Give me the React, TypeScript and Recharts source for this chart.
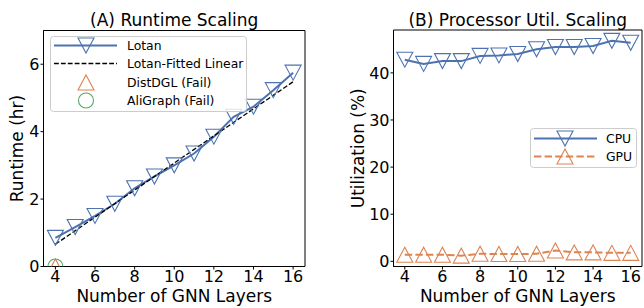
import React from "react";
import {
  LineChart, Line, XAxis, YAxis, Legend, Label, ReferenceArea,
} from "recharts";

// ---- data ----
const layers = [4, 5, 6, 7, 8, 9, 10, 11, 12, 13, 14, 15, 16];
const xTicks = [4, 6, 8, 10, 12, 14, 16];

const lotanRuntime = [0.85, 1.17, 1.5, 1.86, 2.32, 2.67, 3.0, 3.35, 3.85, 4.44, 4.74, 5.23, 5.75];
const fitLayers = [4, 16];
const fitRuntime = [0.66, 5.48];
const failLayers = [4];
const distdglRuntime = [0];
const aligraphRuntime = [0];
const runtimeTicks = [0, 2, 4, 6];

const cpuUtil = [42.8, 41.9, 42.5, 42.5, 43.6, 43.7, 44.0, 45.0, 45.5, 45.5, 45.7, 46.8, 46.4];
const gpuUtil = [1.4, 1.4, 1.4, 1.2, 1.6, 1.55, 1.55, 1.6, 2.3, 1.9, 1.9, 1.8, 1.8];
const utilTicks = [0, 10, 20, 30, 40];

const BLUE = "#4C72B0";
const ORANGE = "#DD8452";
const GREEN = "#55A868";
const FONT = "'DejaVu Sans', sans-serif";

const toRows = (xs: number[], ys: number[]) => xs.map((x, i) => ({ x, y: ys[i] }));

const lotanData = toRows(layers, lotanRuntime);
const fitData = toRows(fitLayers, fitRuntime);
const distdglData = toRows(failLayers, distdglRuntime);
const aligraphData = toRows(failLayers, aligraphRuntime);
const cpuData = toRows(layers, cpuUtil);
const gpuData = toRows(layers, gpuUtil);

// ---- marker shapes (hollow, like matplotlib mfc='none') ----
const HW = 8; // half width
const HH = 7.5; // half height

function TriDown({ cx, cy, color }: { cx: number; cy: number; color: string }) {
  return (
    <path
      d={`M${cx - HW},${cy - HH} L${cx + HW},${cy - HH} L${cx},${cy + HH} Z`}
      fill="none" stroke={color} strokeWidth={1.1}
    />
  );
}
function TriUp({ cx, cy, color }: { cx: number; cy: number; color: string }) {
  return (
    <path
      d={`M${cx - HW},${cy + HH} L${cx + HW},${cy + HH} L${cx},${cy - HH} Z`}
      fill="none" stroke={color} strokeWidth={1.1}
    />
  );
}
function Ring({ cx, cy, color }: { cx: number; cy: number; color: string }) {
  return <circle cx={cx} cy={cy} r={7.5} fill="none" stroke={color} strokeWidth={1.1} />;
}

const dotOf = (Shape: any, color: string) => (p: any) => (
  <Shape key={`d-${p.index}`} cx={p.cx} cy={p.cy} color={color} />
);

// ---- legend box ----
type LegendItem = {
  label: string;
  color: string;
  line?: { width: number; dash?: string };
  marker?: "down" | "up" | "circle";
};

function LegendBox(props: {
  items: LegendItem[]; width: number; height: number; rowY: number[];
  x1: number; x2: number; mx: number; tx: number;
}) {
  const { items, width, height, rowY, x1, x2, mx, tx } = props;
  return (
    <svg width={width} height={height} style={{ display: "block", overflow: "visible" }}>
      <rect x={0.5} y={0.5} width={width - 1} height={height - 1} rx={3}
        fill="#fff" fillOpacity={0.8} stroke="#cccccc" strokeWidth={1} />
      {items.map((it, i) => {
        const y = rowY[i];
        return (
          <g key={it.label}>
            {it.line && (
              <line x1={x1} x2={x2} y1={y} y2={y} stroke={it.color}
                strokeWidth={it.line.width} strokeDasharray={it.line.dash} />
            )}
            {it.marker === "down" && <TriDown cx={mx} cy={y} color={it.color} />}
            {it.marker === "up" && <TriUp cx={mx} cy={y} color={it.color} />}
            {it.marker === "circle" && <Ring cx={mx} cy={y} color={it.color} />}
            <text x={tx} y={y + 4.4} fontSize={12.4} fill="#000" fontFamily={FONT}>{it.label}</text>
          </g>
        );
      })}
    </svg>
  );
}

const runtimeLegend: LegendItem[] = [
  { label: "Lotan", color: BLUE, line: { width: 2 }, marker: "down" },
  { label: "Lotan-Fitted Linear", color: "#000", line: { width: 1.3, dash: "4.8 2.1" } },
  { label: "DistDGL (Fail)", color: ORANGE, marker: "up" },
  { label: "AliGraph (Fail)", color: GREEN, marker: "circle" },
];
const utilLegend: LegendItem[] = [
  { label: "CPU", color: BLUE, line: { width: 2 }, marker: "down" },
  { label: "GPU", color: ORANGE, line: { width: 2, dash: "7.4 3.2" }, marker: "up" },
];

const tickStyle = { fontSize: 16, fill: "#000", fontFamily: FONT };
const labelStyle = { fontSize: 17, fill: "#000", fontFamily: FONT };

function Title({ text, left, width }: { text: string; left: number; width: number }) {
  return (
    <div style={{
      position: "absolute", left, width, top: 12, textAlign: "center",
      fontSize: 17, lineHeight: "17px", fontFamily: FONT, color: "#000", whiteSpace: "nowrap",
    }}>{text}</div>
  );
}

export default function App() {
  const xDomain: [number, number] = [3.4, 16.6];
  return (
    <div style={{ position: "absolute", left: 0, top: 0, width: 644, height: 308, background: "#fff", fontFamily: FONT }}>
      <div style={{ position: "absolute", left: 0, top: 0 }}>
        <LineChart width={322} height={308} margin={{ top: 30.5, right: 17, bottom: 0, left: 0 }}>
          <XAxis dataKey="x" type="number" domain={xDomain} ticks={xTicks} allowDataOverflow
            height={41.5} tickSize={3} tickMargin={1} stroke="#000" tick={tickStyle}>
            <Label value="Number of GNN Layers" position="insideBottom" offset={6} style={labelStyle} />
          </XAxis>
          <YAxis type="number" domain={[0, 7]} ticks={runtimeTicks} allowDataOverflow
            width={43.5} tickSize={3} tickMargin={1} stroke="#000" tick={tickStyle}>
            <Label value="Runtime (hr)" angle={-90} position="center" dx={-5} style={{ ...labelStyle, textAnchor: "middle" }} />
          </YAxis>
          <ReferenceArea x1={3.4} x2={16.6} y1={0} y2={7} fill="none" fillOpacity={0} stroke="#000" strokeWidth={1} />
          <Line data={lotanData} dataKey="y" stroke={BLUE} strokeWidth={2} type="linear"
            dot={dotOf(TriDown, BLUE)} activeDot={false} isAnimationActive={false} />
          <Line data={fitData} dataKey="y" stroke="#000" strokeWidth={1.3} strokeDasharray="4.8 2.1"
            type="linear" dot={false} activeDot={false} isAnimationActive={false} />
          <Line data={distdglData} dataKey="y" stroke="none" dot={dotOf(TriUp, ORANGE)}
            activeDot={false} isAnimationActive={false} />
          <Line data={aligraphData} dataKey="y" stroke="none" dot={dotOf(Ring, GREEN)}
            activeDot={false} isAnimationActive={false} />
          <Legend layout="horizontal" verticalAlign="middle" align="center"
            wrapperStyle={{ left: 50, top: 36, width: 197, height: 76 }}
            content={() => (
              <LegendBox items={runtimeLegend} width={197} height={76}
                rowY={[9.5, 27.5, 46.5, 64.5]} x1={4} x2={67} mx={36} tx={77} />
            )} />
        </LineChart>
      </div>
      <div style={{ position: "absolute", left: 322, top: 0 }}>
        <LineChart width={322} height={308} margin={{ top: 30, right: 2, bottom: 0, left: 0 }}>
          <XAxis dataKey="x" type="number" domain={xDomain} ticks={xTicks} allowDataOverflow
            height={41.5} tickSize={3} tickMargin={1} stroke="#000" tick={tickStyle}>
            <Label value="Number of GNN Layers" position="insideBottom" offset={6} style={labelStyle} />
          </XAxis>
          <YAxis type="number" domain={[-1.1, 49.1]} ticks={utilTicks} allowDataOverflow
            width={71.5} tickSize={3} tickMargin={1} stroke="#000" tick={tickStyle}>
            <Label value="Utilization (%)" angle={-90} position="center" dx={0} style={{ ...labelStyle, textAnchor: "middle" }} />
          </YAxis>
          <ReferenceArea x1={3.4} x2={16.6} y1={-1.1} y2={49.1} fill="none" fillOpacity={0} stroke="#000" strokeWidth={1} />
          <Line data={cpuData} dataKey="y" stroke={BLUE} strokeWidth={2} type="linear"
            dot={dotOf(TriDown, BLUE)} activeDot={false} isAnimationActive={false} />
          <Line data={gpuData} dataKey="y" stroke={ORANGE} strokeWidth={2} strokeDasharray="7.4 3.2"
            type="linear" dot={dotOf(TriUp, ORANGE)} activeDot={false} isAnimationActive={false} />
          <Legend layout="horizontal" verticalAlign="middle" align="center"
            wrapperStyle={{ left: 208, top: 128, width: 107, height: 40 }}
            content={() => (
              <LegendBox items={utilLegend} width={107} height={40}
                rowY={[10.5, 28.5]} x1={4} x2={67} mx={35} tx={76} />
            )} />
        </LineChart>
      </div>
      <Title text="(A) Runtime Scaling" left={43.5} width={261.5} />
      <Title text="(B) Processor Util. Scaling" left={393.5} width={248.5} />
    </div>
  );
}
